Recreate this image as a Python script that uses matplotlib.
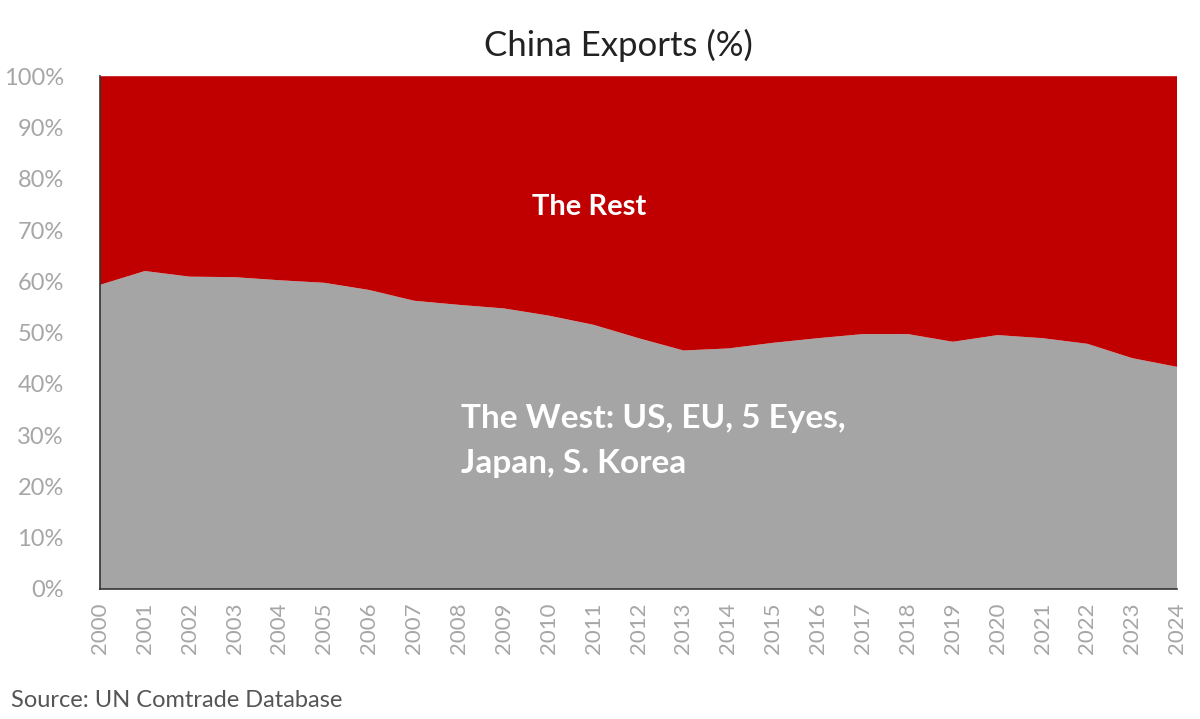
import matplotlib.pyplot as plt
import numpy as np

plt.rcParams['font.family'] = ['Lato', 'DejaVu Sans']

# Data
years = list(range(2000, 2025))
west_share = [59.3, 62.0, 60.9, 60.8, 60.2, 59.7, 58.3, 56.2, 55.4, 54.7,
              53.3, 51.5, 48.9, 46.5, 46.9, 48.0, 48.9, 49.7, 49.7, 48.2,
              49.5, 48.9, 47.8, 45.0, 43.3]
rest_share = [100 - v for v in west_share]
y_ticks = list(range(0, 101, 10))

fig = plt.figure(figsize=(12, 7.19), dpi=100)
ax = fig.add_axes([0.0833, 0.181, 0.8977, 0.713])

ax.stackplot(years, west_share, rest_share, colors=['#a5a5a5', '#c00000'], linewidth=0)

ax.set_xlim(2000, 2024)
ax.set_ylim(0, 100)
ax.set_xticks(years)
ax.set_xticklabels([str(y) for y in years], rotation=90, fontsize=16, color='#a6a6a6')
ax.set_yticks(y_ticks)
ax.set_yticklabels([f'{t}%' for t in y_ticks], fontsize=17, color='#a6a6a6')
ax.tick_params(axis='x', length=0, pad=10)
ax.tick_params(axis='y', length=0, pad=26)

for side in ['top', 'right']:
    ax.spines[side].set_visible(False)
for side in ['left', 'bottom']:
    ax.spines[side].set_color('#333333')
    ax.spines[side].set_linewidth(1.2)

# Labels inside the areas
ax.text(2010.9, 74.5, 'The Rest', color='white', fontsize=21, fontweight='bold',
        ha='center', va='center')
ax.text(2008.05, 28.8, 'The West: US, EU, 5 Eyes,\nJapan, S. Korea', color='white',
        fontsize=24, fontweight='bold', ha='left', va='center', linespacing=1.65)

fig.text(0.515, 0.937, 'China Exports (%)', ha='center', va='center', fontsize=25, color='#222222')
fig.text(0.009, 0.026, 'Source: UN Comtrade Database', ha='left', va='center',
         fontsize=17, color='#555555')

fig.savefig('out.png', dpi=100)
